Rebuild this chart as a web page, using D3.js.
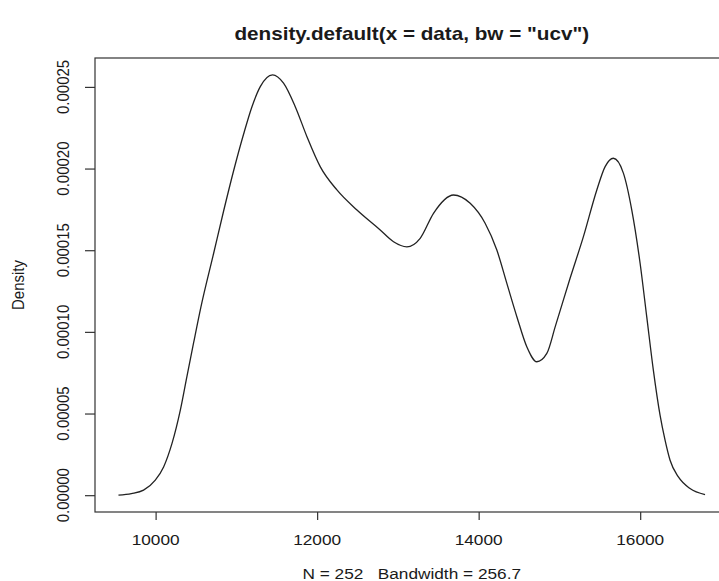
<!DOCTYPE html>
<html>
<head>
    <meta charset="utf-8">
    <title>density.default(x = data, bw = "ucv")</title>
    <script src="https://d3js.org/d3.v7.min.js"></script>
    <style>
        body {
            margin: 0;
            background: #fff;
        }
        text {
            font-family: "Liberation Sans", Arial, sans-serif;
            fill: #1a1a1a;
        }
    </style>
</head>
<body>
    <div id="chart"></div>

    <script>
        // density estimate (x, density)
        const densityX = [9540, 9700, 9851, 9996, 10099, 10203, 10306, 10388, 10470, 10560,
            10718, 10842, 10965, 11089, 11193, 11296, 11448, 11584, 11729, 11874,
            12038, 12245, 12493, 12781, 12946, 13111, 13276, 13441, 13688, 13895,
            14080, 14225, 14349, 14473, 14596, 14720, 14844, 14950, 15132, 15297,
            15463, 15566, 15668, 15792, 15896, 15999, 16081, 16163, 16246, 16308,
            16370, 16473, 16617, 16803];
        const densityY = [0.0000000, 0.0000010, 0.0000031, 0.0000092, 0.0000173, 0.0000317, 0.0000521, 0.0000728, 0.0000932, 0.0001150,
            0.0001480, 0.0001740, 0.0001985, 0.0002210, 0.0002379, 0.0002502, 0.0002574, 0.0002523, 0.0002379, 0.0002195,
            0.0002012, 0.0001869, 0.0001746, 0.0001624, 0.0001552, 0.0001521, 0.0001573, 0.0001726, 0.0001838, 0.0001787,
            0.0001665, 0.0001501, 0.0001297, 0.0001093, 0.0000909, 0.0000817, 0.0000868, 0.0001035, 0.0001328, 0.0001583,
            0.0001869, 0.0002012, 0.0002063, 0.0001972, 0.0001746, 0.0001420, 0.0001093, 0.0000766, 0.0000490, 0.0000337,
            0.0000214, 0.0000112, 0.0000041, 0.0000004];

        const xTicks = [10000, 12000, 14000, 16000];
        const yTicks = [0, 0.00005, 0.00010, 0.00015, 0.00020, 0.00025];

        const titleText = 'density.default(x = data, bw = "ucv")';
        const xLabel = "N = 252   Bandwidth = 256.7";
        const yLabel = "Density";

        const width = 719;
        const height = 581;
        // plot region; right edge runs past the window like in the picture
        const plot = {left: 95, right: 728.5, top: 58, bottom: 512};
        const stretch = 1.15;

        // R style axis ranges: data range padded by 4% each side
        function padded(ext) {
            const d = (ext[1] - ext[0]) * 0.04;
            return [ext[0] - d, ext[1] + d];
        }

        const x = d3.scaleLinear()
            .domain(padded(d3.extent(densityX)))
            .range([plot.left, plot.right]);

        const y = d3.scaleLinear()
            .domain(padded(d3.extent(densityY)))
            .range([plot.bottom, plot.top]);

        const svg = d3.select("#chart")
            .append("svg")
            .attr("width", width)
            .attr("height", height);

        const points = densityX.map((v, i) => [v, densityY[i]]);

        const line = d3.line()
            .x(d => x(d[0]))
            .y(d => y(d[1]))
            .curve(d3.curveMonotoneX);

        svg.append("path")
            .datum(points)
            .attr("fill", "none")
            .attr("stroke", "#222")
            .attr("stroke-width", 1.3)
            .attr("d", line);

        // box
        svg.append("rect")
            .attr("x", plot.left)
            .attr("y", plot.top)
            .attr("width", plot.right - plot.left)
            .attr("height", plot.bottom - plot.top)
            .attr("fill", "none")
            .attr("stroke", "#333")
            .attr("stroke-width", 1.2);

        // x axis
        const xAxis = svg.append("g")
            .attr("transform", `translate(0,${plot.bottom})`)
            .call(d3.axisBottom(x).tickValues(xTicks).tickSize(8).tickFormat(""));
        xAxis.select(".domain").remove();
        xAxis.selectAll("line").attr("stroke", "#333").attr("stroke-width", 1.2);

        svg.append("g").selectAll("text")
            .data(xTicks)
            .join("text")
            .attr("transform", d => `translate(${x(d)},539) scale(${stretch},1)`)
            .attr("text-anchor", "middle")
            .attr("dominant-baseline", "central")
            .attr("font-size", 15)
            .text(d => d);

        // y axis
        const yAxis = svg.append("g")
            .attr("transform", `translate(${plot.left},0)`)
            .call(d3.axisLeft(y).tickValues(yTicks).tickSize(10).tickFormat(""));
        yAxis.select(".domain").remove();
        yAxis.selectAll("line").attr("stroke", "#333").attr("stroke-width", 1.2);

        svg.append("g").selectAll("text")
            .data(yTicks)
            .join("text")
            .attr("transform", d => `translate(63,${y(d)}) rotate(-90) scale(1,${stretch})`)
            .attr("text-anchor", "middle")
            .attr("dominant-baseline", "central")
            .attr("font-size", 15)
            .text(d3.format(".5f"));

        // labels
        const midX = (plot.left + plot.right) / 2;

        svg.append("text")
            .attr("transform", `translate(${midX},34) scale(${stretch},1)`)
            .attr("text-anchor", "middle")
            .attr("dominant-baseline", "central")
            .attr("font-size", 18)
            .attr("font-weight", "bold")
            .text(titleText);

        svg.append("text")
            .attr("transform", `translate(${midX},573) scale(${stretch},1)`)
            .attr("text-anchor", "middle")
            .attr("dominant-baseline", "central")
            .attr("font-size", 15)
            .attr("xml:space", "preserve")
            .style("white-space", "pre")
            .text(xLabel);

        svg.append("text")
            .attr("transform", `translate(18,${(plot.top + plot.bottom) / 2}) rotate(-90) scale(1,${stretch})`)
            .attr("text-anchor", "middle")
            .attr("dominant-baseline", "central")
            .attr("font-size", 15)
            .text(yLabel);
    </script>
</body>
</html>
